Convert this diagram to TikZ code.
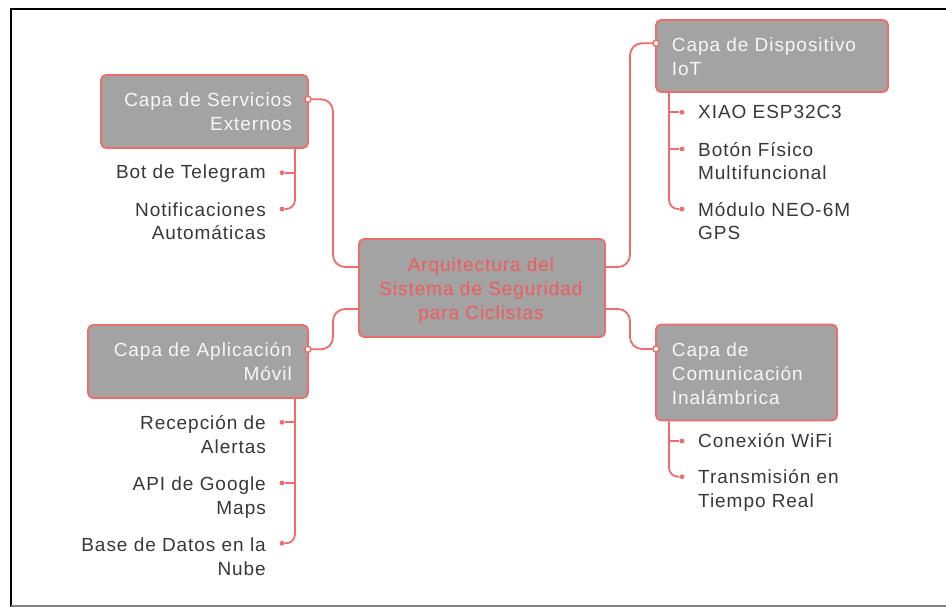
\documentclass[tikz,border=0pt]{standalone}
\usepackage{fontspec}
\setmainfont{Liberation Sans}[LetterSpace=5]
\definecolor{linkred}{HTML}{F26B6B}
\definecolor{boxgrey}{HTML}{A3A3A3}
\definecolor{titlered}{HTML}{F45A5A}
\definecolor{leaftext}{HTML}{383838}
\definecolor{boxtext}{HTML}{F7F7F7}
\begin{document}
\begin{tikzpicture}[x=1pt,y=-1pt,
  box/.style={draw=linkred, line width=1.8pt, fill=boxgrey, rounded corners=5pt, inner sep=0pt},
  link/.style={draw=linkred, line width=1.8pt, rounded corners=12pt},
  twig/.style={draw=linkred, line width=1.8pt, rounded corners=9pt},
  port/.style={circle, draw=linkred, line width=1.3pt, fill=white, inner sep=0pt, minimum size=6pt},
  leafdot/.style={circle, fill=linkred, inner sep=0pt, minimum size=4.8pt},
  txt/.style={font=\fontsize{19}{24}\selectfont, inner sep=0pt},
  boxlblL/.style={txt, text=boxtext, align=right, anchor=base east},
  boxlblR/.style={txt, text=boxtext, align=left, anchor=base west},
  leafL/.style={txt, text=leaftext, align=right, anchor=base east},
  leafR/.style={txt, text=leaftext, align=left, anchor=base west},
]
\useasboundingbox (0,0) rectangle (946,607);
\fill[white] (0,0) rectangle (946,607);
\draw[line width=2pt] (10.5,607) -- (10.5,9.5) -- (946,9.5);
\draw[line width=1.5pt, gray] (10.5,606) -- (946,606);

% boxes (label positions are the baseline of the last line)
\node[box, minimum width=246pt, minimum height=98pt] (cen) at (482,288) {};
\node[txt, text=titlered, align=center, anchor=base] (cenT) at (481,319) {Arquitectura del\\Sistema de Seguridad\\para Ciclistas};

\node[box, minimum width=207pt, minimum height=73pt] (srv) at (204.5,111.5) {};
\node[boxlblL] (srvT) at (292,130.7) {Capa de Servicios\\Externos};

\node[box, minimum width=220pt, minimum height=73pt] (app) at (198,361.5) {};
\node[boxlblL] (appT) at (292,380.7) {Capa de Aplicación\\Móvil};

\node[box, minimum width=232pt, minimum height=72pt] (iot) at (772,56) {};
\node[boxlblR] (iotT) at (671.7,76) {Capa de Dispositivo\\IoT};

\node[box, minimum width=181pt, minimum height=96pt] (com) at (746.5,372.5) {};
\node[boxlblR] (comT) at (671.7,404) {Capa de\\Comunicación\\Inalámbrica};

% centre connection points and trunks
\coordinate (cNW) at ([yshift=21pt]cen.west);
\coordinate (cSW) at ([yshift=-21pt]cen.west);
\coordinate (cNE) at ([yshift=21pt]cen.east);
\coordinate (cSE) at ([yshift=-21pt]cen.east);
\coordinate (lx) at (333,0);
\coordinate (rx) at (630,0);

% ports
\node[port] (srvp) at (308,99.3) {};
\node[port] (appp) at (308,349.3) {};
\node[port] (iotp) at (656,43.3) {};
\node[port] (comp) at (656,349) {};

% main links
\draw[link] (srvp) -| (lx |- cNW) -- (cNW);
\draw[link] (appp) -| (lx |- cSW) -- (cSW);
\draw[link] (cNE) -| (rx |- iotp) -- (iotp);
\draw[link] (cSE) -| (rx |- comp) -- (comp);

% redraw ports on top
\node[port] at (srvp) {};
\node[port] at (appp) {};
\node[port] at (iotp) {};
\node[port] at (comp) {};

% leaves: Servicios
\coordinate (st) at (295,0);
\node[leafdot] (s1d) at (282,172.7) {};
\node[leafdot] (s2d) at (282,209) {};
\node[leafL] (s1) at (266,179) {Bot de Telegram};
\node[leafL] (s2) at (266,240) {Notificaciones\\Automáticas};
\draw[twig] (srv.south -| st) |- (s2d);
\draw[twig] (st |- s1d) -- (s1d);

% leaves: Aplicacion
\node[leafdot] (a1d) at (282,422.3) {};
\node[leafdot] (a2d) at (282,483) {};
\node[leafdot] (a3d) at (282,543.3) {};
\node[leafL] (a1) at (266,453) {Recepción de\\Alertas};
\node[leafL] (a2) at (266,514) {API de Google\\Maps};
\node[leafL] (a3) at (266,575) {Base de Datos en la\\Nube};
\draw[twig] (app.south -| st) |- (a3d);
\draw[twig] (st |- a1d) -- (a1d);
\draw[twig] (st |- a2d) -- (a2d);

% leaves: IoT
\coordinate (it) at (669,0);
\node[leafdot] (i1d) at (682,112.3) {};
\node[leafdot] (i2d) at (682,149) {};
\node[leafdot] (i3d) at (682,209) {};
\node[leafR] (i1) at (698,119) {XIAO ESP32C3};
\node[leafR] (i2) at (698,180) {Botón Físico\\Multifuncional};
\node[leafR] (i3) at (698,240) {Módulo NEO-6M\\GPS};
\draw[twig] (iot.south -| it) |- (i3d);
\draw[twig] (it |- i1d) -- (i1d);
\draw[twig] (it |- i2d) -- (i2d);

% leaves: Comunicacion
\node[leafdot] (c1d) at (682,441) {};
\node[leafdot] (c2d) at (682,476.7) {};
\node[leafR] (c1) at (698,447.3) {Conexión WiFi};
\node[leafR] (c2) at (698,507.3) {Transmisión en\\Tiempo Real};
\draw[twig] (com.south -| it) |- (c2d);
\draw[twig] (it |- c1d) -- (c1d);
\end{tikzpicture}
\end{document}
